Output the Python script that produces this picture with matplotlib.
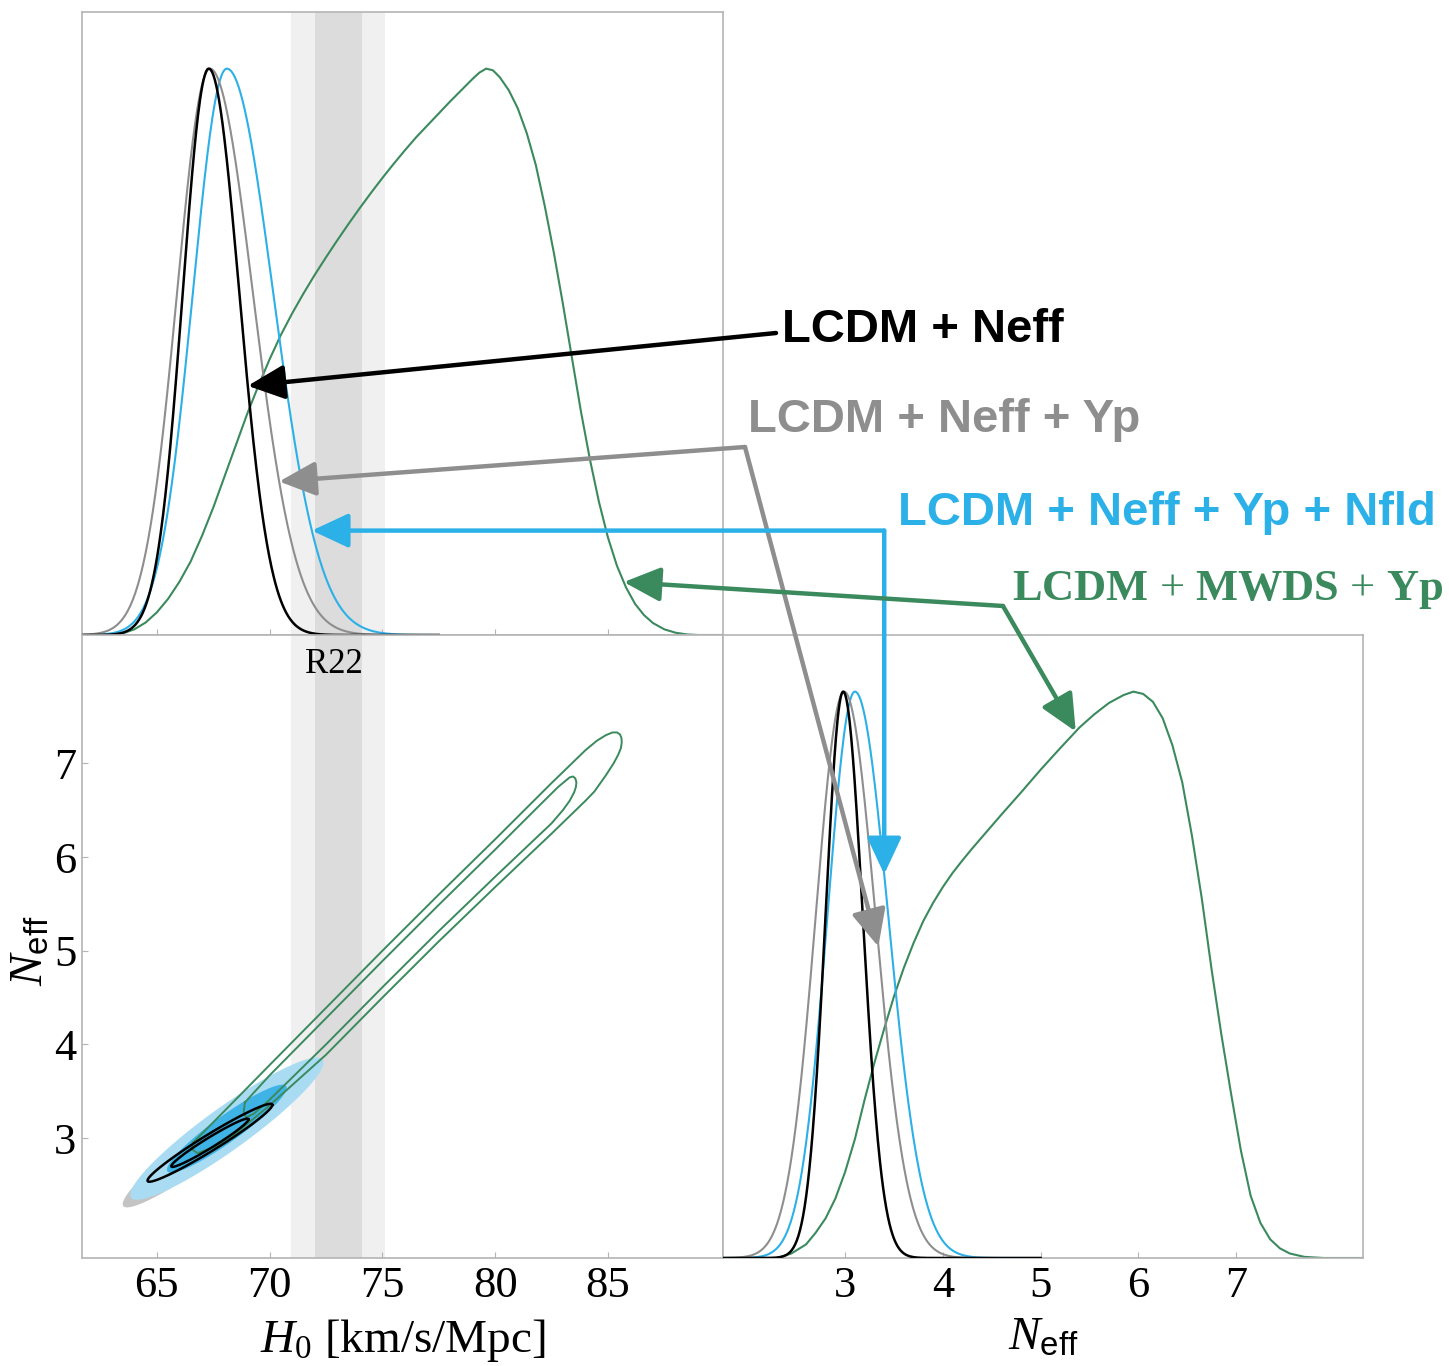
import numpy as np
import matplotlib
matplotlib.use('Agg')
import matplotlib.pyplot as plt
from matplotlib import transforms
from matplotlib.patches import ConnectionPatch

plt.rcParams['font.family'] = ['Liberation Serif', 'DejaVu Serif']
plt.rcParams['mathtext.fontset'] = 'custom'
plt.rcParams['mathtext.rm'] = 'Liberation Serif'
plt.rcParams['mathtext.it'] = 'Liberation Serif:italic'
plt.rcParams['mathtext.bf'] = 'Liberation Serif:bold'
plt.rcParams['mathtext.sf'] = 'Liberation Sans'

# ---------------- values ----------------
run_names = ['LCDM + Neff', 'LCDM + Neff + Yp', 'LCDM + Neff + Yp + Nfld']
run_colors = ['black', '#8e8e8e', '#2cb0e8']

# 1D marginals of the three CMB runs: mode, left width, right width
h0_mode = [67.3, 67.35, 68.1]
h0_sig_lo = [1.15, 1.45, 1.5]
h0_sig_hi = [1.35, 1.9, 2.05]
neff_mode = [2.98, 2.99, 3.10]
neff_sig_lo = [0.18, 0.29, 0.28]
neff_sig_hi = [0.20, 0.32, 0.34]

# 2D contours of the same runs: means, widths, correlation
h0_mean_2d = [67.35, 67.4, 68.1]
neff_mean_2d = [2.95, 2.97, 3.10]
h0_sig_2d = [1.13, 1.6, 1.75]
neff_sig_2d = [0.17, 0.29, 0.31]
rho_2d = [0.97, 0.95, 0.93]

# LCDM + MWDS + Yp, 1D marginals
green_h0 = [61.7, 63.0, 63.5, 64.0, 64.5, 65.0, 65.5, 66.0, 66.5, 67.0, 67.5, 68.0,
            68.5, 69.0, 69.5, 70.0, 70.5, 71.0, 71.5, 72.0, 72.5, 73.0, 73.5, 74.0,
            74.5, 75.0, 75.5, 76.0, 76.5, 77.0, 77.5, 78.0, 78.5, 79.0, 79.3, 79.6,
            79.9, 80.2, 80.6, 81.0, 81.4, 81.8, 82.2, 82.6, 83.0, 83.4, 83.8, 84.2,
            84.6, 85.0, 85.4, 85.8, 86.2, 86.6, 87.0, 87.5, 88.0, 88.5, 89.0, 90.1]
green_h0_p = [0.0, 0.0, 0.003, 0.01, 0.022, 0.04, 0.064, 0.094, 0.13, 0.175, 0.225, 0.28,
              0.335, 0.39, 0.44, 0.487, 0.53, 0.568, 0.603, 0.636, 0.667, 0.697, 0.726, 0.754,
              0.781, 0.807, 0.832, 0.856, 0.879, 0.9, 0.921, 0.942, 0.962, 0.982, 0.993, 1.0,
              0.997, 0.985, 0.962, 0.93, 0.886, 0.83, 0.757, 0.675, 0.585, 0.49, 0.395, 0.31,
              0.235, 0.172, 0.122, 0.084, 0.055, 0.035, 0.021, 0.01, 0.004, 0.001, 0.0, 0.0]
green_nf = [1.75, 2.3, 2.45, 2.6, 2.7, 2.8, 2.9, 3.0, 3.1, 3.2, 3.3, 3.4, 3.5, 3.6,
            3.7, 3.8, 3.9, 4.0, 4.1, 4.2, 4.3, 4.4, 4.5, 4.6, 4.8, 5.0, 5.2, 5.4, 5.55,
            5.7, 5.85, 5.95, 6.05, 6.15, 6.25, 6.35, 6.45, 6.55, 6.65, 6.75, 6.85, 6.95,
            7.05, 7.15, 7.25, 7.35, 7.45, 7.55, 7.7, 7.9, 8.3]
green_nf_p = [0.0, 0.0, 0.008, 0.024, 0.045, 0.07, 0.105, 0.152, 0.21, 0.28, 0.345, 0.405,
              0.462, 0.512, 0.556, 0.595, 0.627, 0.655, 0.68, 0.702, 0.723, 0.743, 0.763,
              0.783, 0.822, 0.862, 0.9, 0.937, 0.96, 0.98, 0.994, 1.0, 0.996, 0.982, 0.953,
              0.905, 0.84, 0.745, 0.635, 0.51, 0.395, 0.29, 0.19, 0.11, 0.062, 0.033, 0.017,
              0.008, 0.002, 0.0, 0.0]

# LCDM + MWDS + Yp, 2D contours (outline points, H0 / Neff)
green_out_h0 = [66.6, 68.0, 70.0, 72.5, 75.0, 77.5, 80.0, 82.5, 84.0, 84.5, 84.9, 85.2,
                85.4, 85.53, 85.6, 85.61, 85.57, 85.45, 85.25, 84.9, 84.4, 84.0, 82.5, 80.0,
                77.5, 75.0, 72.5, 70.0, 68.5, 67.5, 66.8, 66.55, 66.6]
green_out_nf = [2.95, 3.29, 3.78, 4.39, 5.0, 5.60, 6.19, 6.79, 7.14, 7.24, 7.30, 7.33,
                7.33, 7.31, 7.27, 7.22, 7.16, 7.09, 7.0, 6.87, 6.70, 6.60, 6.25, 5.68,
                5.10, 4.50, 3.89, 3.35, 3.05, 2.90, 2.84, 2.88, 2.95]
green_in_h0 = [68.9, 70.0, 72.5, 75.0, 77.5, 80.0, 82.0, 82.8, 83.1, 83.3, 83.45, 83.55,
               83.6, 83.58, 83.5, 83.3, 83.0, 82.5, 80.0, 77.5, 75.0, 72.5, 70.0, 69.3,
               68.95, 68.85, 68.9]
green_in_nf = [3.38, 3.67, 4.28, 4.89, 5.49, 6.08, 6.56, 6.75, 6.81, 6.85, 6.86, 6.84,
               6.80, 6.75, 6.69, 6.60, 6.50, 6.36, 5.79, 5.21, 4.61, 4.00, 3.41, 3.26,
               3.22, 3.28, 3.38]

r22_mean, r22_err = 73.04, 1.04

# ---------------- figure ----------------
W, H = 1449, 1366
fig = plt.figure(figsize=(W / 100, H / 100), dpi=100)

x0, x1, x2 = 82 / W, 723 / W, 1363 / W
y0, y1, y2 = 1 - 1258 / H, 1 - 635 / H, 1 - 12 / H
ax_h0 = fig.add_axes([x0, y1, x1 - x0, y2 - y1])
ax_2d = fig.add_axes([x0, y0, x1 - x0, y1 - y0])
ax_nf = fig.add_axes([x1, y0, x2 - x1, y1 - y0])

h0_lim = (61.68, 90.1)
nf_lim_y = (1.72, 8.37)
nf_lim_x = (1.75, 8.30)
green = '#3a8a5e'
spine_c = '#b4b4b4'


def split_normal(x, mode, s_lo, s_hi):
    s = np.where(x < mode, s_lo, s_hi)
    return np.exp(-0.5 * ((x - mode) / s) ** 2)


def conf_ellipse(mx, my, sx, sy, rho, k):
    t = np.linspace(0, 2 * np.pi, 300)
    u, v = np.cos(t), np.sin(t)
    return mx + k * sx * u, my + k * sy * (rho * u + np.sqrt(1 - rho ** 2) * v)


k68, k95 = np.sqrt(2.30), np.sqrt(5.99)

# R22 band behind the H0 panels
for ax in (ax_h0, ax_2d):
    ax.axvspan(r22_mean - 2 * r22_err, r22_mean + 2 * r22_err, color='#f0f0f0', lw=0, zorder=0)
    ax.axvspan(r22_mean - r22_err, r22_mean + r22_err, color='#dcdcdc', lw=0, zorder=0)

# top-left: H0 marginals
ax_h0.plot(green_h0, green_h0_p, color=green, lw=1.5, zorder=2)
xs = np.linspace(h0_lim[0], 77.5, 600)
for i in [2, 1, 0]:
    ax_h0.plot(xs, split_normal(xs, h0_mode[i], h0_sig_lo[i], h0_sig_hi[i]),
               color=run_colors[i], lw=1.8 if i == 0 else 1.5, zorder=3 + (2 - i))
ax_h0.set_xlim(h0_lim)
ax_h0.set_ylim(0, 1.1)

# bottom-right: Neff marginals
ax_nf.plot(green_nf, green_nf_p, color=green, lw=1.5, zorder=2)
ns = np.linspace(nf_lim_x[0], 5.0, 600)
for i in [2, 1, 0]:
    ax_nf.plot(ns, split_normal(ns, neff_mode[i], neff_sig_lo[i], neff_sig_hi[i]),
               color=run_colors[i], lw=1.8 if i == 0 else 1.5, zorder=3 + (2 - i))
ax_nf.set_xlim(nf_lim_x)
ax_nf.set_ylim(0, 1.1)

# bottom-left: H0 - Neff plane
fill_cols = {1: ('#c4c4c4', '#a3a3a3'), 2: ('#a9dcf3', '#3fb3e6')}
for i in [1, 2]:
    for k, col in zip([k95, k68], fill_cols[i]):
        ex, ey = conf_ellipse(h0_mean_2d[i], neff_mean_2d[i], h0_sig_2d[i],
                              neff_sig_2d[i], rho_2d[i], k)
        ax_2d.fill(ex, ey, color=col, lw=0, zorder=2 + i)
ax_2d.plot(green_out_h0, green_out_nf, color=green, lw=1.4, zorder=5)
ax_2d.plot(green_in_h0, green_in_nf, color=green, lw=1.4, zorder=5)
for k in [k95, k68]:
    ex, ey = conf_ellipse(h0_mean_2d[0], neff_mean_2d[0], h0_sig_2d[0],
                          neff_sig_2d[0], rho_2d[0], k)
    ax_2d.plot(ex, ey, color='black', lw=1.8, zorder=6)
ax_2d.set_xlim(h0_lim)
ax_2d.set_ylim(nf_lim_y)
ax_2d.text(r22_mean - 0.2, 8.05, 'R22', ha='center', va='center', fontsize=25, zorder=7)

# axes styling
for ax in (ax_h0, ax_2d, ax_nf):
    for s in ax.spines.values():
        s.set_color(spine_c)
        s.set_linewidth(1.2)
    ax.tick_params(direction='in', length=4, width=0.8, color=spine_c,
                   labelsize=32, pad=6)
for ax in (ax_h0, ax_2d):
    ax.set_xticks([65, 70, 75, 80, 85])
ax_h0.set_xticklabels([])
ax_h0.set_yticks([])
ax_2d.set_yticks([3, 4, 5, 6, 7])
ax_nf.set_xticks([3, 4, 5, 6, 7])
ax_nf.set_yticks([])
ax_2d.tick_params(axis='y', pad=4)

ax_2d.set_xlabel(r'$H_0$ [km/s/Mpc]', fontsize=34)
ax_2d.xaxis.set_label_coords(0.5, -0.095)
ax_2d.set_ylabel(r'$N_{\mathsf{eff}}$', fontsize=34)
ax_2d.yaxis.set_label_coords(-0.045, 0.494)
ax_nf.set_xlabel(r'$N_{\mathsf{eff}}$', fontsize=34)
ax_nf.xaxis.set_label_coords(0.5, -0.095)

# ---------------- labels and arrows ----------------
def fpx(x, y):
    return x / W, 1 - y / H


fig.text(*fpx(782, 330), run_names[0], color='black', fontsize=34, fontweight='bold',
         family='Liberation Sans', ha='left', va='center')
fig.text(*fpx(748, 420), run_names[1], color=run_colors[1], fontsize=34, fontweight='bold',
         family='Liberation Sans', ha='left', va='center')
fig.text(*fpx(898, 513), run_names[2], color=run_colors[2], fontsize=34, fontweight='bold',
         family='Liberation Sans', ha='left', va='center')
fig.text(*fpx(1012, 590), r'$\mathbf{LCDM}$ + $\mathbf{MWDS}$ + $\mathbf{Yp}$', color=green,
         fontsize=32, ha='left', va='center')


def add_arrow(start, start_coords, tip, tip_ax, color):
    arr = ConnectionPatch(xyA=start, coordsA=start_coords, xyB=tip, coordsB=tip_ax.transData,
                          arrowstyle='-|>,head_length=0.9,head_width=0.42', mutation_scale=25,
                          color=color, lw=3.2, shrinkA=0, shrinkB=0)
    fig.add_artist(arr)


def on_run(i, x, h0=True):
    if h0:
        return x, float(split_normal(x, h0_mode[i], h0_sig_lo[i], h0_sig_hi[i]))
    return x, float(split_normal(x, neff_mode[i], neff_sig_lo[i], neff_sig_hi[i]))


# black
add_arrow(fpx(776, 333), fig.transFigure, on_run(0, 69.03), ax_h0, 'black')
# grey
add_arrow(fpx(745, 447), fig.transFigure, on_run(1, 70.42), ax_h0, run_colors[1])
add_arrow(fpx(745, 447), fig.transFigure, on_run(1, 3.34, False), ax_nf, run_colors[1])
# blue (right-angle legs)
tip_top = on_run(2, 71.87)
tip_bot = on_run(2, 3.40, False)
corner = transforms.blended_transform_factory(ax_nf.transData, ax_h0.transData)
add_arrow((tip_bot[0], tip_top[1]), corner, tip_top, ax_h0, run_colors[2])
add_arrow((tip_bot[0], tip_top[1]), corner, tip_bot, ax_nf, run_colors[2])
# green
g_top = (85.7, float(np.interp(85.7, green_h0, green_h0_p)))
g_bot = (5.36, float(np.interp(5.36, green_nf, green_nf_p)))
add_arrow(fpx(1003, 606), fig.transFigure, g_top, ax_h0, green)
add_arrow(fpx(1003, 606), fig.transFigure, g_bot, ax_nf, green)

fig.savefig('out.png', dpi=100)
